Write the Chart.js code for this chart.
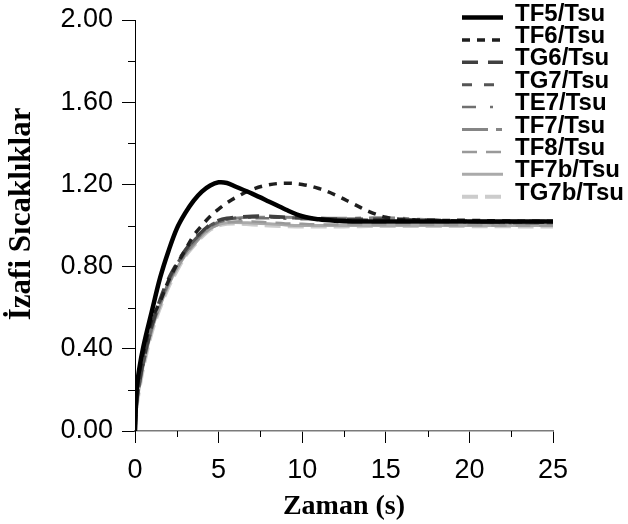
<!DOCTYPE html>
<html>
<head>
<meta charset="utf-8">
<script src="https://cdn.jsdelivr.net/npm/chart.js@4"></script>
<style>
  html, body { margin: 0; padding: 0; background: #fff; }
  #wrap { width: 628px; height: 524px; }
</style>
</head>
<body>
<div id="wrap"><canvas id="chart" width="628" height="524"></canvas></div>
<script>
// time (s)
const times = [0, 0.1, 0.25, 0.5, 1, 1.5, 2, 2.5, 3, 3.5, 4, 4.5, 5, 5.5, 6, 7, 8, 9, 10, 11, 12, 13, 14, 15, 16, 18, 20, 22, 25];

const seriesNames = ['TF5/Tsu', 'TF6/Tsu', 'TG6/Tsu', 'TG7/Tsu', 'TE7/Tsu', 'TF7/Tsu', 'TF8/Tsu', 'TF7b/Tsu', 'TG7b/Tsu'];

const tf5  = [0, 0.2, 0.3, 0.41, 0.58, 0.745, 0.875, 0.985, 1.06, 1.12, 1.165, 1.195, 1.21, 1.207, 1.19, 1.155, 1.117, 1.078, 1.045, 1.03, 1.023, 1.02, 1.02, 1.02, 1.02, 1.02, 1.02, 1.02, 1.02];
const tf6  = [0, 0.18, 0.28, 0.38, 0.54, 0.63, 0.73, 0.81, 0.88, 0.95, 1.0, 1.045, 1.08, 1.11, 1.135, 1.175, 1.198, 1.206, 1.2, 1.18, 1.148, 1.108, 1.068, 1.04, 1.03, 1.025, 1.025, 1.022, 1.02];
const tg6  = [0, 0.14, 0.23, 0.34, 0.51, 0.64, 0.74, 0.815, 0.88, 0.93, 0.97, 1.005, 1.025, 1.035, 1.04, 1.045, 1.045, 1.04, 1.038, 1.035, 1.032, 1.03, 1.03, 1.03, 1.028, 1.025, 1.02, 1.02, 1.02];
const tg7  = [0, 0.14, 0.22, 0.33, 0.5, 0.63, 0.73, 0.81, 0.875, 0.925, 0.965, 1.0, 1.02, 1.03, 1.036, 1.04, 1.04, 1.038, 1.035, 1.032, 1.03, 1.028, 1.027, 1.025, 1.022, 1.02, 1.018, 1.015, 1.015];
const te7  = [0, 0.13, 0.22, 0.33, 0.5, 0.62, 0.72, 0.8, 0.865, 0.915, 0.96, 0.995, 1.015, 1.025, 1.03, 1.035, 1.035, 1.033, 1.03, 1.03, 1.028, 1.027, 1.025, 1.022, 1.02, 1.017, 1.015, 1.012, 1.01];
const tf7  = [0, 0.13, 0.22, 0.33, 0.5, 0.62, 0.72, 0.8, 0.865, 0.915, 0.96, 0.995, 1.018, 1.03, 1.035, 1.04, 1.04, 1.04, 1.038, 1.036, 1.035, 1.035, 1.037, 1.038, 1.035, 1.025, 1.018, 1.012, 1.01];
const tf8  = [0, 0.13, 0.21, 0.32, 0.49, 0.61, 0.71, 0.79, 0.855, 0.905, 0.95, 0.985, 1.005, 1.015, 1.02, 1.02, 1.015, 1.01, 1.008, 1.005, 1.005, 1.005, 1.005, 1.005, 1.005, 1.003, 1.002, 1.0, 1.0];
const tf7b = [0, 0.13, 0.21, 0.32, 0.49, 0.61, 0.71, 0.79, 0.855, 0.905, 0.95, 0.985, 1.005, 1.013, 1.015, 1.012, 1.008, 1.003, 1.0, 1.0, 1.0, 1.0, 1.0, 1.0, 1.0, 1.0, 1.0, 1.0, 1.0];
const tg7b = [0, 0.12, 0.2, 0.31, 0.48, 0.6, 0.7, 0.78, 0.85, 0.9, 0.945, 0.98, 1.0, 1.008, 1.01, 1.005, 1.0, 0.997, 0.995, 0.995, 0.995, 0.996, 0.997, 0.998, 0.998, 0.998, 0.997, 0.996, 0.995];

const allSeries = [tf5, tf6, tg6, tg7, te7, tf7, tf8, tf7b, tg7b];

const xTickStep = 5;
const yTickStep = 0.4;

const lineStyles = [
    { color: '#000000', width: 4.5, dash: [] },
    { color: '#1e1e1e', width: 3.5, dash: [8, 7] },
    { color: '#404040', width: 3.5, dash: [16, 10] },
    { color: '#555555', width: 3, dash: [10, 12] },
    { color: '#707070', width: 2.5, dash: [14, 14, 3, 14] },
    { color: '#858585', width: 3, dash: [26, 8, 6, 8] },
    { color: '#999999', width: 2.5, dash: [15, 9] },
    { color: '#aaaaaa', width: 3, dash: [] },
    { color: '#cccccc', width: 4, dash: [16, 7] }
];

const datasets = seriesNames.map((name, i) => ({
    label: name,
    data: times.map((t, j) => ({ x: t, y: allSeries[i][j] })),
    borderColor: lineStyles[i].color,
    borderWidth: lineStyles[i].width,
    borderDash: lineStyles[i].dash,
    pointRadius: 0,
    fill: false,
    tension: 0.35
}));

// minor ticks halfway between the labelled ones, plus the legend on the right
const extrasPlugin = {
    id: 'extras',
    afterDraw(chart) {
        const ctx = chart.ctx;
        const xs = chart.scales.x;
        const ys = chart.scales.y;
        ctx.save();
        ctx.strokeStyle = '#000';
        ctx.lineWidth = 1;
        ctx.setLineDash([]);
        for (let v = xTickStep / 2; v < xs.max; v += xTickStep) {
            const px = Math.round(xs.getPixelForValue(v)) + 0.5;
            ctx.beginPath();
            ctx.moveTo(px, xs.top);
            ctx.lineTo(px, xs.top + 6);
            ctx.stroke();
        }
        for (let v = yTickStep / 2; v < ys.max; v += yTickStep) {
            const py = Math.round(ys.getPixelForValue(v)) + 0.5;
            ctx.beginPath();
            ctx.moveTo(ys.right - 7, py);
            ctx.lineTo(ys.right, py);
            ctx.stroke();
        }

        // legend
        ctx.font = 'bold 24px "Liberation Sans", Arial, sans-serif';
        ctx.textBaseline = 'middle';
        ctx.fillStyle = '#000';
        chart.data.datasets.forEach((ds, i) => {
            const ty = 14 + i * 22.4;
            ctx.strokeStyle = ds.borderColor;
            ctx.lineWidth = ds.borderWidth;
            ctx.lineCap = 'butt';
            ctx.setLineDash(ds.borderDash);
            ctx.beginPath();
            ctx.moveTo(462, ty + 3.5);
            ctx.lineTo(503, ty + 3.5);
            ctx.stroke();
            ctx.fillText(ds.label, 515, ty);
        });
        ctx.restore();
    }
};

new Chart(document.getElementById('chart'), {
    type: 'line',
    data: { datasets: datasets },
    options: {
        responsive: false,
        animation: false,
        layout: { padding: { top: 20, right: 75, left: 0, bottom: 0 } },
        plugins: {
            legend: { display: false },
            tooltip: { enabled: false }
        },
        scales: {
            x: {
                type: 'linear',
                min: 0,
                max: 25,
                afterFit: (scale) => { scale.height = 93; },
                ticks: {
                    stepSize: xTickStep,
                    color: '#000',
                    padding: 11,
                    font: { family: '"Liberation Sans", Arial, sans-serif', size: 27 }
                },
                grid: { drawOnChartArea: false, tickLength: 12, tickColor: '#000' },
                border: { color: '#7a7a7a', width: 1.5 },
                title: {
                    display: true,
                    text: 'Zaman (s)',
                    color: '#000',
                    padding: 0,
                    font: { family: '"Liberation Serif", "Times New Roman", serif', size: 28, weight: 'bold' }
                }
            },
            y: {
                min: 0,
                max: 2,
                afterFit: (scale) => {
                    scale.width = 135;
                    scale.paddingTop = 0;
                    scale.paddingBottom = 0;
                },
                ticks: {
                    stepSize: yTickStep,
                    color: '#000',
                    padding: 9,
                    callback: (v) => v.toFixed(2),
                    font: { family: '"Liberation Sans", Arial, sans-serif', size: 27 }
                },
                grid: { drawOnChartArea: false, tickLength: 13, tickColor: '#000' },
                border: { color: '#000', width: 1 },
                title: {
                    display: true,
                    text: '   İzafi Sıcaklıklar',
                    color: '#000',
                    padding: { top: 3, bottom: 0 },
                    font: { family: '"Liberation Serif", "Times New Roman", serif', size: 31, weight: 'bold' }
                }
            }
        }
    },
    plugins: [extrasPlugin]
});
</script>
</body>
</html>
